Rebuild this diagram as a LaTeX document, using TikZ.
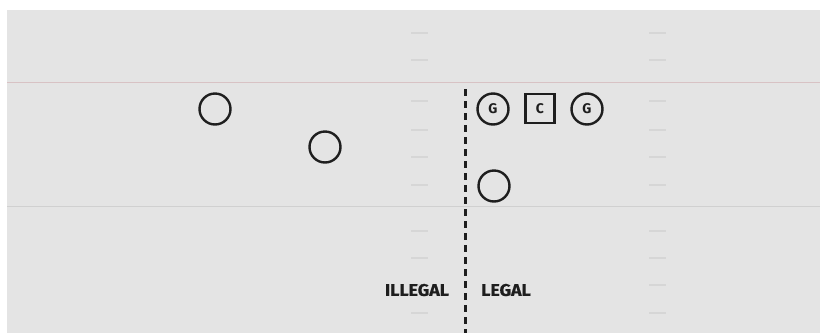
\documentclass[tikz,border=0pt]{standalone}
\usepackage{fontspec}
\setmainfont{Fira Sans}
\newfontfamily\lblfont[FakeStretch=1.05,FakeBold=0.6]{Fira Sans}
\definecolor{fieldbg}{HTML}{E4E4E4}
\definecolor{pinkline}{HTML}{D8C2C4}
\definecolor{grayline}{HTML}{D0D0D0}
\definecolor{hashcol}{HTML}{D6D6D6}
\definecolor{ink}{HTML}{1E1E1E}
\tikzset{
  player/.style={circle, draw=ink, line width=2.4pt, minimum size=31pt, inner sep=0pt, font=\bfseries\fontsize{14}{14}\selectfont, text=ink},
  center/.style={rectangle, draw=ink, line width=2.1pt, minimum size=29pt, inner sep=0pt, font=\bfseries\fontsize{14}{14}\selectfont, text=ink},
  hash/.style={draw=hashcol, line width=1.5pt},
  yard/.style={line width=1.7pt},
  scrim/.style={draw=ink, line width=3.4pt, dash pattern=on 7pt off 5pt},
  lbl/.style={font=\lblfont\bfseries\fontsize{17}{17}\selectfont, text=ink, inner sep=0pt}
}
\begin{document}
\begin{tikzpicture}[x=1pt,y=-1pt]
\useasboundingbox (0,0) rectangle (820,333);
\fill[white] (0,0) rectangle (820,333);
\fill[fieldbg] (7,10) rectangle (820,333);
\draw[yard, draw=pinkline] (7,82.5) -- (820,82.5);
\draw[yard, draw=grayline] (7,206.5) -- (820,206.5);
\foreach \y in {33,60,101,130,157,185,231,258,285,313}{
  \draw[hash] (411,\y) -- (428,\y);
  \draw[hash] (649,\y) -- (666,\y);
}
\coordinate (lostop) at (465.5,89);
\coordinate (losbot) at (465.5,333);
\draw[scrim] (lostop) -- (losbot);
\node[player] (d1) at (215,109) {};
\node[player] (d2) at (325,147) {};
\node[player] (g1) at (493,109) {G};
\node[center] (c) at (540,108.5) {C};
\node[player] (g2) at (587,109) {G};
\node[player] (qb) at (494,186) {};
\node[lbl] (illegal) at (417,290) {ILLEGAL};
\node[lbl] (legal) at (506,290) {LEGAL};
\end{tikzpicture}
\end{document}
